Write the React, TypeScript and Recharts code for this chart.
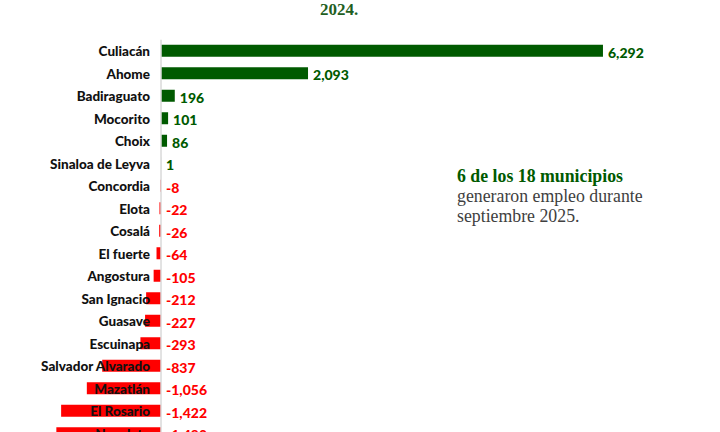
import React from 'react';
import { BarChart, Bar, XAxis, YAxis, Cell, LabelList, ReferenceLine } from 'recharts';

const municipios = [
  'Culiacán', 'Ahome', 'Badiraguato', 'Mocorito', 'Choix', 'Sinaloa de Leyva',
  'Concordia', 'Elota', 'Cosalá', 'El fuerte', 'Angostura', 'San Ignacio',
  'Guasave', 'Escuinapa', 'Salvador Alvarado', 'Mazatlán', 'El Rosario', 'Navolato'
];
const empleos = [6292, 2093, 196, 101, 86, 1, -8, -22, -26, -64, -105, -212, -227, -293, -837, -1056, -1422, -1490];

const data = municipios.map((name, i) => ({ name, value: empleos[i] }));

const GREEN = '#005a00';
const RED = '#ff0000';
const LABEL_FONT = 'Lato, "DejaVu Sans", sans-serif';

const fmt = (v: number) => v.toLocaleString('en-US');

const CategoryTick = (props: any) => {
  const { y, payload } = props;
  return (
    <text x={150} y={y} textAnchor="end" dominantBaseline="central"
      fontFamily={LABEL_FONT} fontWeight={900} fontSize={13.5} fill="#111">
      {payload.value}
    </text>
  );
};

const ValueLabel = (props: any) => {
  const { x, y, width, height, value } = props;
  const right = Math.max(x, x + width);
  return (
    <text x={right + 5} y={y + height / 2 + 1.5} dominantBaseline="central"
      fontFamily={LABEL_FONT} fontWeight={900} fontSize={14}
      fill={value >= 0 ? GREEN : RED}>
      {fmt(value)}
    </text>
  );
};

export default function App() {
  return (
    <div style={{ position: 'absolute', left: 0, top: 0, width: 720, height: 432, overflow: 'hidden', background: '#fff' }}>
      <div style={{ position: 'absolute', left: 0, top: 0, width: 678, textAlign: 'center',
        fontFamily: '"Liberation Serif", serif', fontWeight: 700, fontSize: 17, color: '#1f5f1f', lineHeight: '20px' }}>
        2024.
      </div>
      <BarChart width={720} height={460} data={data} layout="vertical"
        margin={{ top: 39.75, right: 67.3, bottom: 15.25, left: 0 }} barSize={12}>
        <XAxis type="number" domain={[-1700, 7000]} hide />
        <ReferenceLine x={0} stroke="#d9d9d9" strokeWidth={1.5} />
        <Bar dataKey="value" isAnimationActive={false}>
          {data.map((d, i) => (
            <Cell key={i} fill={d.value >= 0 ? GREEN : RED} />
          ))}
          <LabelList dataKey="value" content={ValueLabel} />
        </Bar>
        <YAxis type="category" dataKey="name" width={41.6} axisLine={false} tickLine={false}
          tick={CategoryTick} interval={0} />
      </BarChart>
      <div style={{ position: 'absolute', left: 457, top: 166, fontFamily: '"Liberation Serif", serif',
        fontSize: 17.8, lineHeight: '20px', color: '#404040' }}>
        <div style={{ color: GREEN, fontWeight: 700 }}>6 de los 18 municipios</div>
        <div>generaron empleo durante</div>
        <div>septiembre 2025.</div>
      </div>
    </div>
  );
}
